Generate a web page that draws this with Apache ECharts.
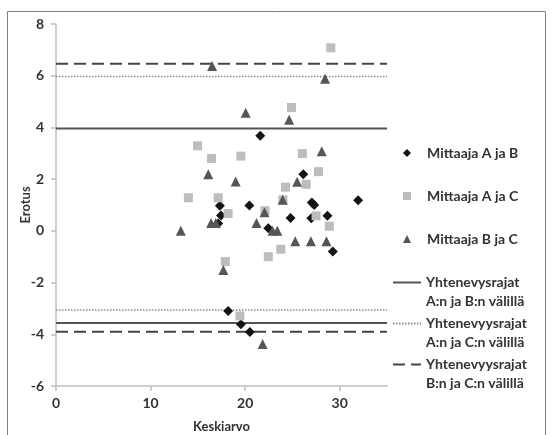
<!DOCTYPE html>
<html>
<head>
<meta charset="utf-8">
<title>Erotus vs Keskiarvo</title>
<script src="https://cdn.jsdelivr.net/npm/echarts@6/dist/echarts.min.js"></script>
<style>
  html, body { margin: 0; padding: 0; background: #fff; }
  #chart { width: 553px; height: 435px; }
</style>
</head>
<body>
<div id="chart"></div>
<script>
'use strict';
// mittaajien erotukset [keskiarvo, erotus]
var abPoints = [
  [21.6, 3.68], [26.15, 2.19], [17.33, 0.97], [20.45, 0.98], [27.05, 1.1],
  [27.3, 1.0], [31.95, 1.18], [17.45, 0.59], [17.15, 0.28], [28.7, 0.58],
  [24.8, 0.5], [27.0, 0.49], [22.45, 0.1], [29.27, -0.8], [18.2, -3.1],
  [19.55, -3.61], [20.5, -3.91]
];
var acPoints = [
  [14.0, 1.28], [14.97, 3.29], [16.45, 2.8], [17.15, 1.28], [18.2, 0.67],
  [17.9, -1.19], [19.55, 2.89], [19.45, -3.29], [22.1, 0.78], [22.45, -1.0],
  [23.77, -0.71], [24.27, 1.69], [24.0, 1.2], [24.9, 4.77], [26.05, 2.99],
  [26.45, 1.8], [27.75, 2.29], [27.5, 0.58], [29.06, 7.08], [28.9, 0.18]
];
var bcPoints = [
  [13.2, 0.0], [16.1, 2.19], [16.5, 6.38], [16.4, 0.3], [16.9, 0.3],
  [17.7, -1.51], [19.0, 1.91], [20.06, 4.57], [21.2, 0.3], [22.05, 0.72],
  [22.9, 0.0], [23.4, 0.0], [21.85, -4.38], [23.97, 1.2], [24.65, 4.3],
  [25.5, 1.9], [25.3, -0.4], [26.95, -0.4], [28.1, 3.08], [28.45, 5.88],
  [28.6, -0.4]
];
// yhtenevyysrajat [ylä, ala]
var abLimits = [3.96, -3.56];
var acLimits = [5.97, -3.06];
var bcLimits = [6.46, -3.9];
var xRange = [0, 35];
var yRange = [-6, 8];
var xTicks = [0, 10, 20, 30];

var seriesNames = ['Mittaaja A ja B', 'Mittaaja A ja C', 'Mittaaja B ja C'];
var limitNames = [
  'Yhtenevysrajat\nA:n ja B:n välillä',
  'Yhtenevyysrajat\nA:n ja C:n välillä',
  'Yhtenevyysrajat\nB:n ja C:n välillä'
];

var fontFamily = 'Lato, "Open Sans", sans-serif';
var textColor = '#333333';

function limitData(limits) {
  // yksi viiva ylä- ja alarajalle, katkaistaan null-pisteellä
  return [
    [xRange[0], limits[0]], [xRange[1], limits[0]], [null, null],
    [xRange[0], limits[1]], [xRange[1], limits[1]]
  ];
}

function limitSeries(name, limits, lineStyle) {
  return {
    name: name,
    type: 'line',
    data: limitData(limits),
    showSymbol: false,
    symbol: 'none',
    silent: true,
    connectNulls: false,
    lineStyle: lineStyle,
    itemStyle: { color: lineStyle.color },
    z: 1
  };
}

function scatterSeries(name, data, symbol, size, color) {
  return {
    name: name,
    type: 'scatter',
    data: data,
    symbol: symbol,
    symbolSize: size,
    itemStyle: { color: color, opacity: 1 },
    z: 3
  };
}

function lineLegend(name, top) {
  return {
    // tyhjä ensimmäinen rivi, jotta viiva osuu otsikkoriville
    data: [{ name: name }],
    formatter: function (n) { return '\n' + n; },
    orient: 'vertical',
    left: 392,
    top: top,
    padding: 0,
    itemWidth: 28,
    itemHeight: 10,
    selectedMode: false,
    itemStyle: { opacity: 0 },
    textStyle: {
      fontFamily: fontFamily, fontWeight: 'bold', fontSize: 14,
      color: textColor, lineHeight: 19
    }
  };
}

var chart = echarts.init(document.getElementById('chart'), null, { renderer: 'canvas' });

var option = {
  backgroundColor: '#fff',
  animation: false,
  graphic: [{
    type: 'rect',
    shape: { x: 7.5, y: 11.5, width: 538, height: 440 },
    style: { fill: 'none', stroke: '#7f7f7f', lineWidth: 1 },
    silent: true
  }],
  grid: { left: 56, right: 166, top: 24, bottom: 49, outerBoundsMode: 'none' },
  legend: [{
    data: seriesNames,
    orient: 'vertical',
    left: 403,
    top: 146,
    padding: 0,
    itemWidth: 8,
    itemHeight: 8,
    itemGap: 29,
    selectedMode: false,
    textStyle: {
      fontFamily: fontFamily, fontWeight: 'bold', fontSize: 14, color: textColor,
      padding: [0, 0, 0, 11]
    }
  },
    lineLegend(limitNames[0], 254),
    lineLegend(limitNames[1], 295),
    lineLegend(limitNames[2], 336)
  ],
  xAxis: {
    type: 'value',
    min: xRange[0],
    max: xRange[1],
    interval: 10,
    name: 'Keskiarvo',
    nameLocation: 'middle',
    nameGap: 34,
    nameMoveOverlap: false,
    nameTextStyle: { fontFamily: fontFamily, fontWeight: 'bold', fontSize: 13, color: textColor },
    axisLine: { show: true, onZero: false, lineStyle: { color: '#bfbfbf', width: 1.5 } },
    axisTick: { show: true, length: 5, customValues: xTicks, lineStyle: { color: '#bfbfbf', width: 1.5 } },
    axisLabel: {
      customValues: xTicks, margin: 10,
      fontFamily: fontFamily, fontWeight: 'bold', fontSize: 14, color: textColor
    },
    splitLine: { show: false }
  },
  yAxis: {
    type: 'value',
    min: yRange[0],
    max: yRange[1],
    interval: 2,
    name: 'Erotus',
    nameLocation: 'middle',
    nameGap: 24,
    nameRotate: 90,
    nameMoveOverlap: false,
    nameTextStyle: { fontFamily: fontFamily, fontWeight: 'bold', fontSize: 13, color: textColor },
    axisLine: { show: true, onZero: false, lineStyle: { color: '#bfbfbf', width: 1.5 } },
    axisTick: { show: true, length: 5, lineStyle: { color: '#bfbfbf', width: 1.5 } },
    axisLabel: { margin: 12, fontFamily: fontFamily, fontWeight: 'bold', fontSize: 14, color: textColor },
    splitLine: { show: false }
  },
  series: [
    scatterSeries(seriesNames[0], abPoints, 'diamond', 10, '#141414'),
    scatterSeries(seriesNames[1], acPoints, 'rect', 9, '#bdbdbd'),
    scatterSeries(seriesNames[2], bcPoints, 'triangle', 10, '#565656'),
    limitSeries(limitNames[0], abLimits, { color: '#555555', width: 2, type: 'solid' }),
    limitSeries(limitNames[1], acLimits, { color: '#8a8a8a', width: 1.5, type: [1.5, 1.5] }),
    limitSeries(limitNames[2], bcLimits, { color: '#444444', width: 2, type: [12, 6] })
  ]
};

chart.setOption(option);
</script>
</body>
</html>
